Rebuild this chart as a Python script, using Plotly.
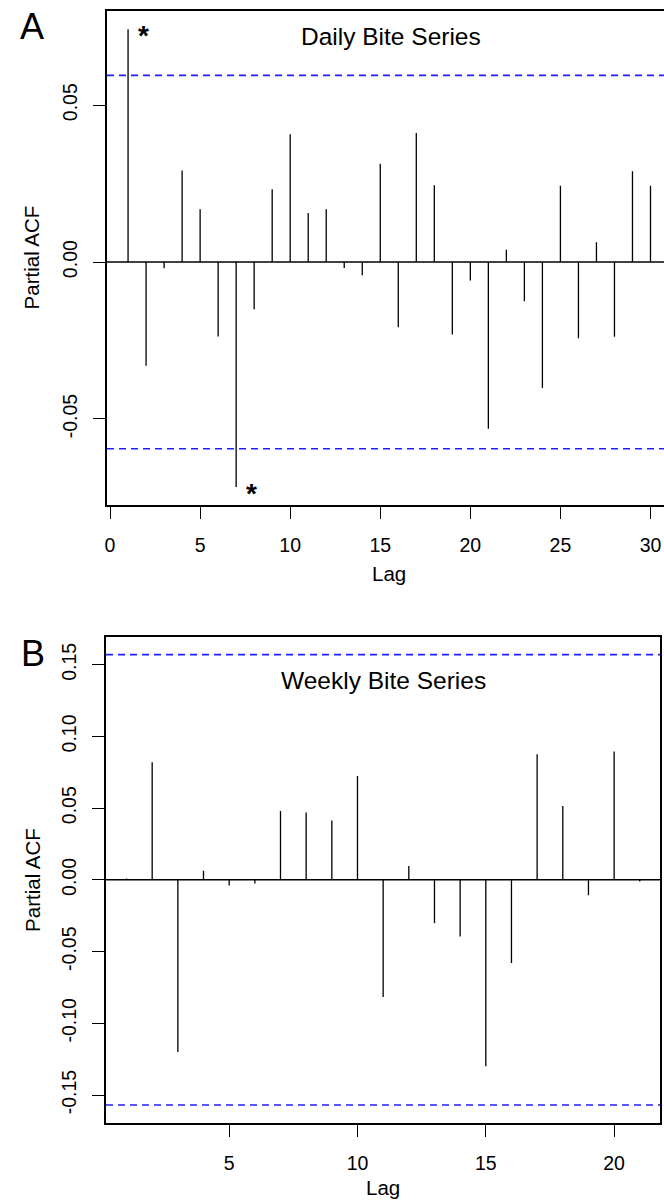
import plotly.graph_objects as go

W, H = 664, 1202

# ---------------- data ----------------
daily_lags = list(range(1, 31))
daily_pacf = [0.0742, -0.0330, -0.0020, 0.0292, 0.0168, -0.0237, -0.0717, -0.0150, 0.0232, 0.0407,
              0.0156, 0.0168, -0.0019, -0.0042, 0.0313, -0.0208, 0.0411, 0.0245, -0.0231, -0.0059,
              -0.0531, 0.0039, -0.0125, -0.0401, 0.0243, -0.0243, 0.0063, -0.0238, 0.0289, 0.0243]
daily_ci = 0.0595
daily_xticks = [0, 5, 10, 15, 20, 25, 30]
daily_yticks = [-0.05, 0.0, 0.05]
daily_ytext = ["-0.05", "0.00", "0.05"]

weekly_lags = list(range(1, 22))
weekly_pacf = [0.0010, 0.0819, -0.1200, 0.0063, -0.0039, -0.0026, 0.0480, 0.0469, 0.0413, 0.0724,
               -0.0817, 0.0097, -0.0302, -0.0395, -0.1300, -0.0580, 0.0875, 0.0515, -0.0107, 0.0894,
               -0.0012]
weekly_ci = 0.157
weekly_xticks = [5, 10, 15, 20]
weekly_yticks = [-0.15, -0.10, -0.05, 0.0, 0.05, 0.10, 0.15]
weekly_ytext = ["-0.15", "-0.10", "-0.05", "0.00", "0.05", "0.10", "0.15"]

FONT = "Liberation Sans, Arial, Helvetica, sans-serif"
TICK_FS = 19.5
LAB_FS = 20.5
TITLE_FS = 24.5


def px(x):
    return x / W


def py(y):
    return 1 - y / H


def spikes(lags, vals):
    xs, ys = [], []
    for l, v in zip(lags, vals):
        xs += [l, l, None]
        ys += [0, v, None]
    return xs, ys


fig = go.Figure()

xa, ya = spikes(daily_lags, daily_pacf)
fig.add_trace(go.Scatter(x=xa, y=ya, mode="lines", line=dict(color="black", width=1.3),
                         xaxis="x", yaxis="y", hoverinfo="skip", showlegend=False))
xb, yb = spikes(weekly_lags, weekly_pacf)
fig.add_trace(go.Scatter(x=xb, y=yb, mode="lines", line=dict(color="black", width=1.3),
                         xaxis="x2", yaxis="y2", hoverinfo="skip", showlegend=False))

shapes = []
for xr, yr, ci in (("x", "y", daily_ci), ("x2", "y2", weekly_ci)):
    shapes.append(dict(type="line", xref=xr + " domain", yref=yr, x0=0, x1=1, y0=0, y1=0,
                       line=dict(color="black", width=1.5)))
    for s in (1, -1):
        shapes.append(dict(type="line", xref=xr + " domain", yref=yr, x0=0, x1=1, y0=s * ci, y1=s * ci,
                           line=dict(color="#1f1fff", width=1.6, dash="7px,5px")))

axis_common = dict(showgrid=False, zeroline=False, showline=True, linecolor="black", linewidth=1.8,
                   ticks="outside", ticklen=12, tickwidth=1.3, tickcolor="black",
                   tickfont=dict(family=FONT, size=TICK_FS, color="black"))

annotations = []
# panel letters
annotations.append(dict(text="A", x=px(30.5), y=py(27), xref="paper", yref="paper", showarrow=False,
                        font=dict(family=FONT, size=36, color="black"), xanchor="center", yanchor="middle"))
annotations.append(dict(text="B", x=px(31.5), y=py(653), xref="paper", yref="paper", showarrow=False,
                        font=dict(family=FONT, size=36, color="black"), xanchor="center", yanchor="middle"))
# panel titles
annotations.append(dict(text="Daily Bite Series", x=px(389.7), y=py(37), xref="paper", yref="paper",
                        showarrow=False, font=dict(family=FONT, size=TITLE_FS, color="black"),
                        xanchor="center", yanchor="middle"))
annotations.append(dict(text="Weekly Bite Series", x=px(382.7), y=py(680), xref="paper", yref="paper",
                        showarrow=False, font=dict(family=FONT, size=TITLE_FS, color="black"),
                        xanchor="center", yanchor="middle"))
# axis titles
for yc in (257.5, 880):
    annotations.append(dict(text="Partial ACF", x=px(30), y=py(yc), xref="paper", yref="paper",
                            showarrow=False, textangle=-90,
                            font=dict(family=FONT, size=LAB_FS, color="black"),
                            xanchor="center", yanchor="middle"))
annotations.append(dict(text="Lag", x=px(388.4), y=py(573), xref="paper", yref="paper", showarrow=False,
                        font=dict(family=FONT, size=LAB_FS, color="black"), xanchor="center", yanchor="middle"))
annotations.append(dict(text="Lag", x=px(382.3), y=py(1187), xref="paper", yref="paper", showarrow=False,
                        font=dict(family=FONT, size=LAB_FS, color="black"), xanchor="center", yanchor="middle"))
# significance asterisks (daily series)
for l, v in zip(daily_lags, daily_pacf):
    if abs(v) > daily_ci:
        annotations.append(dict(text="<b>*</b>", x=l + 0.85, y=v, xref="x", yref="y", showarrow=False,
                                font=dict(family=FONT, size=28, color="black"),
                                xanchor="center", yanchor="middle", yshift=-6))

fig.update_layout(
    width=W, height=H,
    margin=dict(l=0, r=0, t=0, b=0),
    paper_bgcolor="white", plot_bgcolor="white",
    showlegend=False,
    shapes=shapes,
    annotations=annotations,
    xaxis=dict(domain=[px(105.3), 1.0], range=[-0.17, 30.75], tickvals=daily_xticks,
               ticktext=[str(t) for t in daily_xticks], anchor="y", mirror=True,
               ticklabelstandoff=9, **axis_common),
    yaxis=dict(domain=[py(505.3), py(11)], range=[-0.0775, 0.0800], tickvals=daily_yticks,
               ticktext=daily_ytext, tickangle=-90, anchor="x", mirror=False,
               ticklabelstandoff=8, **axis_common),
    xaxis2=dict(domain=[px(104.3), px(660.3)], range=[0.2, 21.8], tickvals=weekly_xticks,
                ticktext=[str(t) for t in weekly_xticks], anchor="y2", mirror=True,
                ticklabelstandoff=10, **axis_common),
    yaxis2=dict(domain=[py(1123), py(636.7)], range=[-0.1695, 0.1695], tickvals=weekly_yticks,
                ticktext=weekly_ytext, tickangle=-90, anchor="x2", mirror=True,
                ticklabelstandoff=8, **axis_common),
)

fig.write_html(
    "out.html",
    config={"displayModeBar": False},
    post_script="document.body.style.margin='0';document.body.style.padding='0';"
                "document.documentElement.style.overflow='hidden';document.body.style.overflow='hidden';",
)
